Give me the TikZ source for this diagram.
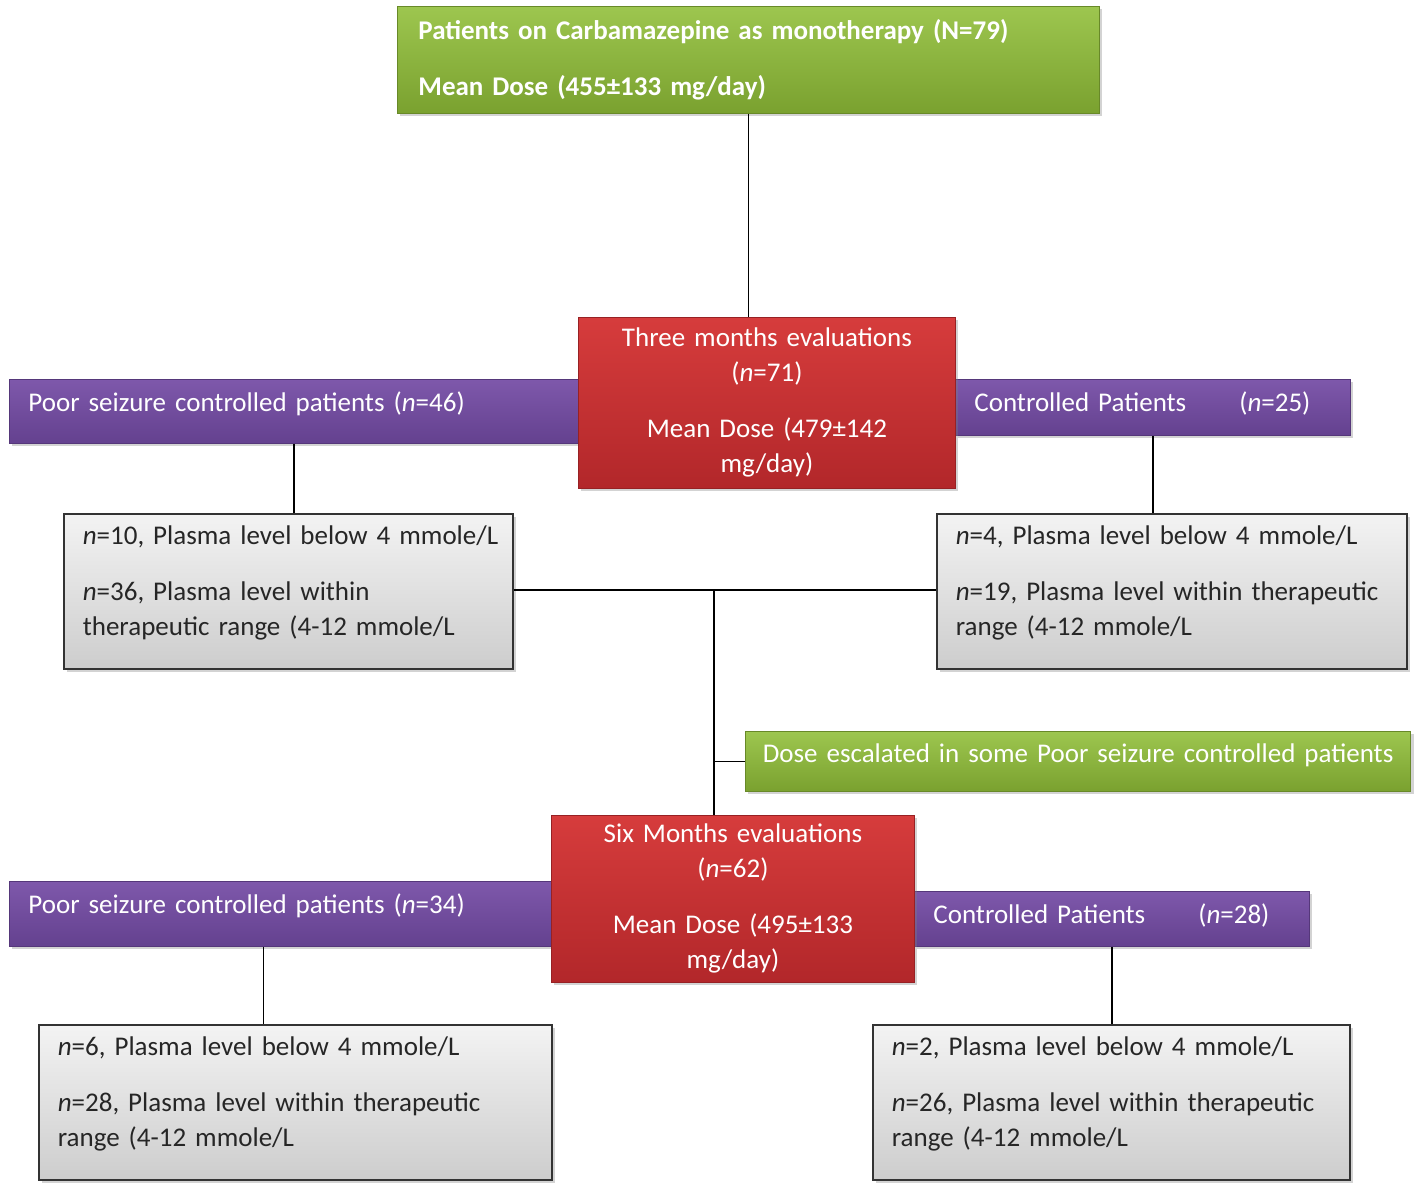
\documentclass[tikz,border=0pt]{standalone}
\usepackage{fontspec}
\setmainfont{Carlito}
\usepackage{xcolor}
\usetikzlibrary{shadows, positioning}
\definecolor{grnTop}{HTML}{9DC64F}
\definecolor{grnBot}{HTML}{7AA12F}
\definecolor{redTop}{HTML}{D63C3C}
\definecolor{redBot}{HTML}{B2272A}
\definecolor{purTop}{HTML}{7E58AB}
\definecolor{purBot}{HTML}{64418F}
\definecolor{gryTop}{HTML}{F3F3F3}
\definecolor{gryBot}{HTML}{CDCDCD}
\tikzset{
    base/.style={anchor=north west, font=\fontsize{13.5pt}{17.5pt}\selectfont, inner ysep=0pt,
        drop shadow={shadow xshift=1.5pt, shadow yshift=-1.5pt, opacity=0.35}},
    greenbox/.style={base, top color=grnTop, bottom color=grnBot, text=white, draw=grnBot!85!black, thin},
    redbox/.style={base, top color=redTop, bottom color=redBot, text=white, draw=redBot!85!black, thin, align=center},
    purplebox/.style={base, top color=purTop, bottom color=purBot, text=white, draw=purBot!85!black, thin, align=left, inner xsep=9.5pt},
    graybox/.style={base, top color=gryTop, bottom color=gryBot, text=black!85, draw=black!80, thick, align=left, inner xsep=9.5pt},
    line/.style={draw=black, thick}
}

\begin{document}
\begin{tikzpicture}[x=0.5pt, y=-0.5pt]
    \useasboundingbox (0,0) rectangle (1418,1191);

    \node [greenbox, align=left, inner xsep=10.5pt, text width=330pt, minimum width=351pt, minimum height=53.5pt] (Start) at (397,6)
        {\bfseries Patients on Carbamazepine as monotherapy (N=79)\\[10.5pt]\bfseries Mean Dose (455\textpm133 mg/day)};

    % three months
    \node [purplebox, text width=265.5pt, minimum width=284.5pt, minimum height=32pt] (PoorA) at (9,379)
        {Poor seizure controlled patients (\textit{n}=46)\\[-8pt]\mbox{}};
    \node [purplebox, text width=178.5pt, minimum width=197.5pt, minimum height=28pt] (CtrlA) at (955,379)
        {Controlled Patients\hspace*{22pt} (\textit{n}=25)\\[-12pt]\mbox{}};
    \node [redbox, text width=180pt, minimum width=188.5pt, minimum height=85.5pt] (Three) at (578,317)
        {Three months evaluations\\(\textit{n}=71)\\[10.5pt]Mean Dose (479\textpm142\\mg/day)};

    \node [graybox, text width=205.5pt, minimum width=224.5pt, minimum height=77.5pt] (LevelA) at (63,513)
        {\mbox{\textit{n}=10, Plasma level below 4 mmole/L}\\[10.5pt]\textit{n}=36, Plasma level within\\therapeutic range (4-12 mmole/L\\[-7pt]\mbox{}};
    \node [graybox, text width=216pt, minimum width=235pt, minimum height=77.5pt] (LevelB) at (936,513)
        {\textit{n}=4, Plasma level below 4 mmole/L\\[10.5pt]\textit{n}=19, Plasma level within therapeutic\\range (4-12 mmole/L\\[-7pt]\mbox{}};

    \node [greenbox, align=center, text width=326pt, minimum width=332.5pt, minimum height=30pt] (Dose) at (745,731)
        {Dose escalated in some Poor seizure controlled patients\\[-9pt]\mbox{}};

    % six months
    \node [purplebox, text width=252pt, minimum width=271pt, minimum height=32.5pt] (PoorB) at (9,881)
        {Poor seizure controlled patients (\textit{n}=34)\\[-7pt]\mbox{}};
    \node [purplebox, text width=178.5pt, minimum width=197.5pt, minimum height=27.5pt] (CtrlB) at (914,891)
        {Controlled Patients\hspace*{22pt} (\textit{n}=28)\\[-12pt]\mbox{}};
    \node [redbox, text width=173pt, minimum width=181.5pt, minimum height=83.5pt] (Six) at (551,815)
        {Six Months evaluations\\(\textit{n}=62)\\[10.5pt]Mean Dose (495\textpm133\\mg/day)};

    \node [graybox, text width=237.5pt, minimum width=256.5pt, minimum height=77.5pt] (LevelC) at (38,1024)
        {\textit{n}=6, Plasma level below 4 mmole/L\\[10.5pt]\textit{n}=28, Plasma level within therapeutic\\range (4-12 mmole/L\\[-7pt]\mbox{}};
    \node [graybox, text width=219.5pt, minimum width=238.5pt, minimum height=77.5pt] (LevelD) at (872,1024)
        {\textit{n}=2, Plasma level below 4 mmole/L\\[10.5pt]\textit{n}=26, Plasma level within therapeutic\\range (4-12 mmole/L\\[-7pt]\mbox{}};

    \coordinate (Mid) at (714,590);

    \draw [line] (Start.south) -- (Start.south |- Three.north);
    \draw [line] (PoorA.south) -- (PoorA.south |- LevelA.north);
    \draw [line] (CtrlA.south) -- (CtrlA.south |- LevelB.north);
    \draw [line] (LevelA.east |- Mid) -- (LevelB.west |- Mid);
    \draw [line] (Mid) -- (Mid |- Six.north);
    \draw [line] (Mid |- Dose.west) -- (Dose.west);
    \draw [line] ([xshift=-8.5pt]PoorB.south) -- ([xshift=-8.5pt]PoorB.south |- LevelC.north);
    \draw [line] (CtrlB.south) -- (CtrlB.south |- LevelD.north);
\end{tikzpicture}
\end{document}
